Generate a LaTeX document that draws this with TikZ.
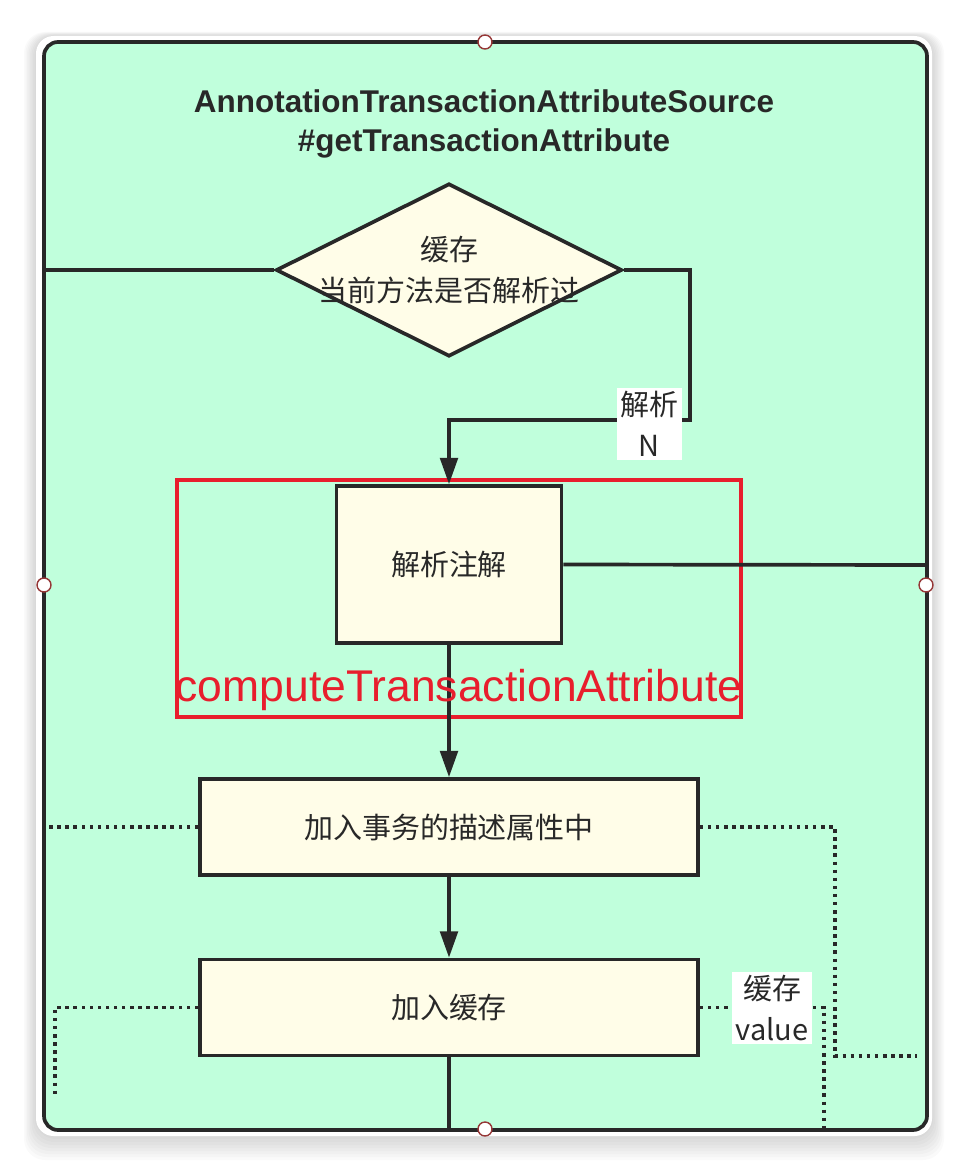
\documentclass[tikz,border=0pt]{standalone}
\usepackage{fontspec}
\setmainfont{Liberation Sans}
\newfontfamily\cjk{Noto Sans CJK SC}
\usetikzlibrary{arrows.meta, positioning, shapes.geometric}
\definecolor{framegreen}{RGB}{192,255,220}
\definecolor{boxcream}{RGB}{255,253,232}
\definecolor{linedark}{RGB}{40,40,40}
\definecolor{markred}{RGB}{232,30,45}
\definecolor{handlered}{RGB}{150,55,55}

\begin{document}
\begin{tikzpicture}[
  x=0.02cm, y=-0.02cm,
  cjkfont/.style={font=\cjk\fontsize{16.5}{23}\selectfont, text=linedark},
  stepbox/.style={
    rectangle, draw=linedark, line width=2.1pt, fill=boxcream,
    minimum width=9.96cm, minimum height=1.92cm,
    text centered, cjkfont
  },
  dmd/.style={
    diamond, draw=linedark, line width=2.1pt, fill=boxcream,
    minimum width=6.92cm, minimum height=3.46cm, inner sep=0pt
  },
  tag/.style={fill=white, align=center, inner sep=2pt, cjkfont},
  handle/.style={circle, draw=handlered, fill=white, line width=0.8pt,
    minimum size=0.28cm, inner sep=0pt},
  arr/.style={-{Triangle[length=15pt, width=10pt]}, line width=2.1pt, draw=linedark},
  plain/.style={line width=2.1pt, draw=linedark},
  dotline/.style={line width=2.1pt, draw=linedark, dash pattern=on 2pt off 2.6pt}
]
\useasboundingbox (0,0) rectangle (968,1172);

% card with soft shadow
\foreach \g in {1,...,8}
  \fill[black, opacity=0.018, rounded corners=12] (36-\g*1.5,36-\g*0.5) rectangle (932+\g*1.5,1136+\g*3);
\fill[white, rounded corners=10] (36,36) rectangle (932,1136);

% frame
\draw[linedark, line width=2.1pt, fill=framegreen, rounded corners=8] (44,42) rectangle (927,1130);

\node[font=\bfseries\fontsize{17.9}{22.5}\selectfont, text=linedark, align=center] (title) at (484,124)
  {AnnotationTransactionAttributeSource\\\#getTransactionAttribute};

% free ends
\coordinate (lout) at (44,270);
\coordinate (rout) at (927,565);
\coordinate (bout) at (449,1132);
\coordinate (bendN) at (690,420);
\coordinate (d2l) at (44,827);
\coordinate (d2rb) at (835,1056);
\coordinate (d2r) at (917,1056);
\coordinate (d3r) at (824,1130);
\coordinate (d3l) at (55,1095);

\node[dmd] (cache) at (449,270) {};
\node[cjkfont, align=center] (cachetxt) at (cache) {缓存\\当前方法是否解析过};

\node[stepbox, minimum width=4.5cm, minimum height=3.14cm] (parse) at (449,564.5) {解析注解};
\node[stepbox] (describe) at (449,827) {加入事务的描述属性中};
\node[stepbox] (store) at (449,1007.5) {加入缓存};

\node[draw=markred, line width=2.4pt, minimum width=11.28cm, minimum height=4.74cm] (mark) at (459,598.5) {};

\draw[plain] (cache.west) -- (lout);
\draw[arr] (cache.east) -| (bendN) -| (parse.north);
\node[tag] (ntag) at (649,424) {解析\\N};
\draw[plain] (parse.east) -- (rout);
\draw[arr] (parse.south) -- (describe.north);
\draw[arr] (describe.south) -- (store.north);
\draw[plain] (store.south) -- (bout);

\node[font=\fontsize{25.3}{30}\selectfont, text=markred] (fname) at (459,690) {computeTransactionAttribute};

\draw[dotline] (describe.west) -- (d2l);
\draw[dotline] (describe.east) -| (d2rb) -- (d2r);
\draw[dotline] (store.east) -| (d3r);
\draw[dotline] (store.west) -| (d3l);
\node[tag] (vtag) at (772,1008) {缓存\\value};

% handles
\node[handle] (htop) at (485,42) {};
\node[handle] (hleft) at (44,585) {};
\node[handle] (hright) at (926,585) {};
\node[handle] (hbot) at (485,1129) {};

\end{tikzpicture}
\end{document}
